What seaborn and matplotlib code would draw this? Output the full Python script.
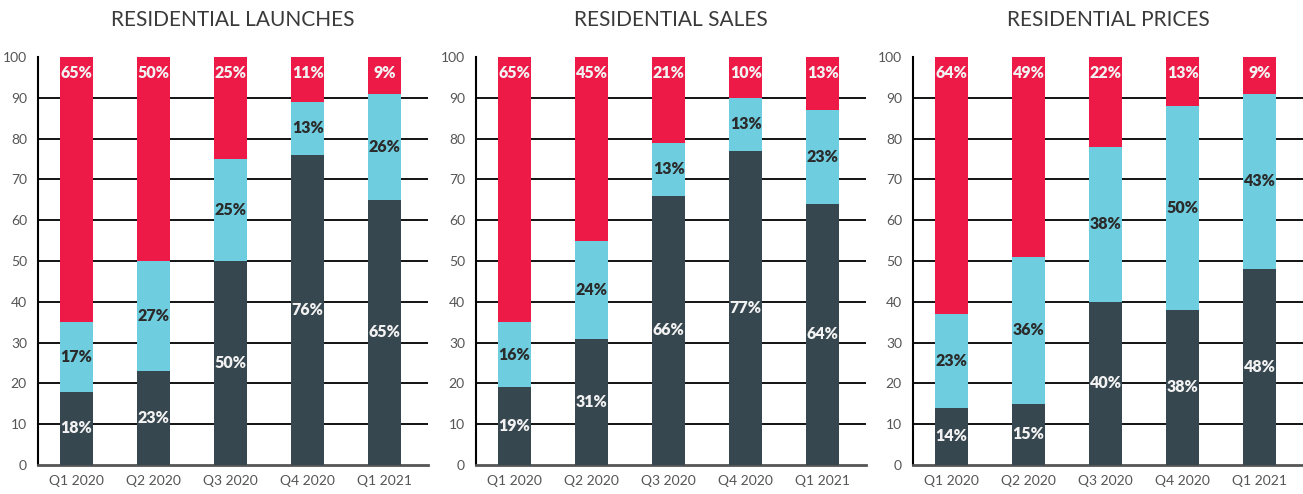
import matplotlib
matplotlib.use("Agg")
import matplotlib.pyplot as plt
import seaborn as sns
import pandas as pd
import numpy as np

quarters = ["Q1 2020", "Q2 2020", "Q3 2020", "Q4 2020", "Q1 2021"]
titles = ["RESIDENTIAL LAUNCHES", "RESIDENTIAL SALES", "RESIDENTIAL PRICES"]

# shares (%) per panel: dark (bottom), cyan (middle), red (top)
launch_dark = [18, 23, 50, 76, 65]
launch_cyan = [17, 27, 25, 13, 26]
launch_red = [65, 50, 25, 11, 9]

sales_dark = [19, 31, 66, 77, 64]
sales_cyan = [16, 24, 13, 13, 23]
sales_red = [65, 45, 21, 10, 13]

price_dark = [14, 15, 40, 38, 48]
price_cyan = [23, 36, 38, 50, 43]
price_red = [64, 49, 22, 13, 9]

panels = [
    (launch_dark, launch_cyan, launch_red),
    (sales_dark, sales_cyan, sales_red),
    (price_dark, price_cyan, price_red),
]

DARK = "#37474f"
CYAN = "#6ecedf"
RED = "#ed1a47"

sns.set_theme(style="white")
plt.rcParams["font.family"] = ["Lato", "DejaVu Sans"]

fig = plt.figure(figsize=(13.03, 4.94), dpi=100)
lefts = [38 / 1303, 476 / 1303, 913 / 1303]
width = 390 / 1303
bottom = 29 / 494
height = 408 / 494

for i, (dark, cyan, red) in enumerate(panels):
    ax = fig.add_axes([lefts[i], bottom, width, height])
    df = pd.DataFrame({
        "quarter": quarters,
        "dark": dark,
        "cyan": cyan,
        "red": red,
    })
    df["mid"] = df["dark"] + df["cyan"]
    df["total"] = df["mid"] + df["red"]
    for yv in range(10, 100, 10):
        ax.axhline(yv, color="black", lw=1.3, zorder=0)
    kw = dict(width=0.43, saturation=1, ax=ax, linewidth=0, edgecolor="none")
    sns.barplot(data=df, x="quarter", y="total", color=RED, zorder=2, **kw)
    sns.barplot(data=df, x="quarter", y="mid", color=CYAN, zorder=3, **kw)
    sns.barplot(data=df, x="quarter", y="dark", color=DARK, zorder=4, **kw)
    for j in range(len(quarters)):
        d, c, r = dark[j], cyan[j], red[j]
        ax.text(j, 96, f"{r}%", ha="center", va="center", color="#f2f2f2",
                fontsize=11.5, fontweight="heavy", zorder=5)
        ax.text(j, d + c / 2, f"{c}%", ha="center", va="center", color="#2b2b2b",
                fontsize=11.5, fontweight="heavy", zorder=5)
        ax.text(j, d / 2, f"{d}%", ha="center", va="center", color="#f2f2f2",
                fontsize=11.5, fontweight="heavy", zorder=5)
    ax.set_ylim(0, 100)
    ax.set_xlim(-0.5, 4.56)
    ax.set_yticks(range(0, 101, 10))
    ax.set_xlabel("")
    ax.set_ylabel("")
    ax.tick_params(axis="both", length=0, labelsize=10, labelcolor="#555555")
    ax.tick_params(axis="x", pad=7)
    ax.tick_params(axis="y", pad=8)
    for s in ["top", "right"]:
        ax.spines[s].set_visible(False)
    ax.spines["left"].set_color("black")
    ax.spines["left"].set_linewidth(1.5)
    ax.spines["bottom"].set_color("#555555")
    ax.spines["bottom"].set_linewidth(2)
    ax.set_title(titles[i], fontsize=15, color="#3a3a3a", pad=22,
                 fontweight="normal")

fig.savefig("out.png", dpi=100)
